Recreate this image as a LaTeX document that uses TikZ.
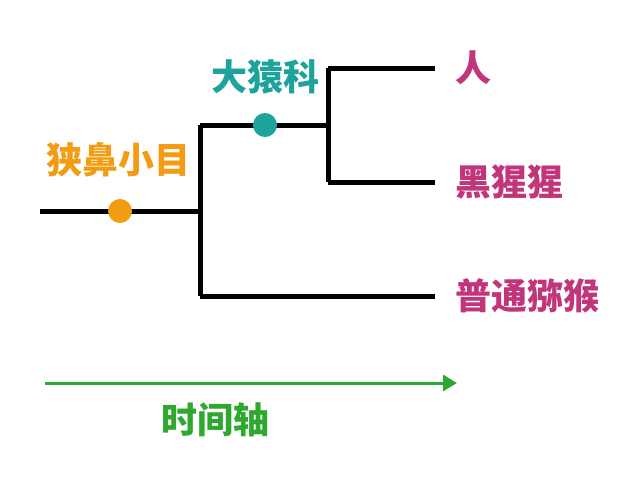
\documentclass[tikz,border=0pt]{standalone}
\usepackage{fontspec}
\newfontfamily\cjk{Noto Sans CJK SC}
\usetikzlibrary{arrows.meta}
\definecolor{orangecol}{HTML}{F39C12}
\definecolor{tealcol}{HTML}{1BA39C}
\definecolor{leafcol}{HTML}{C2357B}
\definecolor{timecol}{HTML}{2EA82E}
\tikzset{
  branch/.style={line width=5pt,black},
  dot/.style={circle,inner sep=0pt,minimum size=24pt},
  lab/.style={font=\cjk\fontsize{36}{36}\selectfont\bfseries}
}
\begin{document}
\begin{tikzpicture}[x=1pt,y=-1pt]
\useasboundingbox (0,0) rectangle (640,480);
% tree
\coordinate (root) at (40,211);
\coordinate (n1) at (200,211);
\coordinate (n2) at (328,125);
\node[lab,leafcol,anchor=west] (human) at (452,68) {人};
\node[lab,leafcol,anchor=west] (chimp) at (452,182) {黑猩猩};
\node[lab,leafcol,anchor=west] (macaque) at (452,296) {普通猕猴};
\draw[branch] (root) -- (n1);
\draw[branch] (n1 |- n2) -- (n1 |- macaque);
\draw[branch] (n1 |- n2) -- (n2);
\draw[branch] (n2 |- human) -- (n2 |- chimp);
\draw[branch] (n2 |- human) -- (435,68);
\draw[branch] (n2 |- chimp) -- (435,182);
\draw[branch] (n1 |- macaque) -- (435,296);
% markers
\node[dot,fill=orangecol] (catarrhini) at (120,211) {};
\node[dot,fill=tealcol] (hominidae) at (265,125) {};
\node[lab,orangecol] at (118,160) {狭鼻小目};
\node[lab,tealcol] at (265,77) {大猿科};
% time axis
\coordinate (t0) at (45,383);
\coordinate (t1) at (457,383);
\draw[timecol,line width=3pt,-{Triangle[length=14pt,width=16pt]}] (t0) -- (t1);
\node[lab,timecol] (time) at (215,420) {时间轴};
\end{tikzpicture}
\end{document}
